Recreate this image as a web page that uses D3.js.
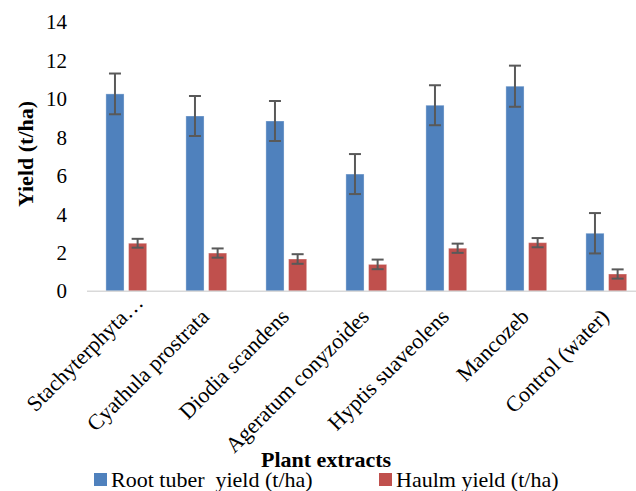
<!DOCTYPE html>
<html>
<head>
<meta charset="utf-8">
<script src="https://cdn.jsdelivr.net/npm/d3@7"></script>
<style>
  html, body { margin: 0; padding: 0; background: #fff; }
  svg { display: block; font-family: "Liberation Serif", "Times New Roman", serif; }
</style>
</head>
<body>
<svg id="chart" width="636" height="491"></svg>
<script>
const categories = ["Stachyterphyta…", "Cyathula prostrata", "Diodia scandens", "Ageratum conyzoides", "Hyptis suaveolens", "Mancozeb", "Control (water)"];
const seriesNames = ["Root tuber  yield (t/ha)", "Haulm yield (t/ha)"];
const rootTuberYield = [10.27, 9.12, 8.86, 6.10, 9.68, 10.67, 3.02];
const rootTuberErr   = [1.06, 1.04, 1.04, 1.04, 1.04, 1.07, 1.05];
const haulmYield     = [2.50, 1.99, 1.68, 1.40, 2.24, 2.53, 0.90];
const haulmErr       = [0.23, 0.24, 0.25, 0.25, 0.24, 0.24, 0.24];
const yTicks = [0, 2, 4, 6, 8, 10, 12, 14];
const colors = ["#4F81BD", "#C0504D"];

const svg = d3.select("#chart");

const y = d3.scaleLinear().domain([0, 14]).range([291.3, 22.2]);
const x0 = d3.scaleBand().domain(categories).range([86.3, 646.3]).paddingInner(0.49).paddingOuter(0.245);
const x1 = d3.scaleBand().domain([0, 1]).range([0, x0.bandwidth()]).paddingInner(0.2);

const rows = categories.map((c, i) => ({
  cat: c,
  vals: [
    { s: 0, v: rootTuberYield[i], e: rootTuberErr[i] },
    { s: 1, v: haulmYield[i], e: haulmErr[i] }
  ]
}));

// y tick labels
svg.append("g").selectAll("text").data(yTicks).join("text")
  .attr("x", 67).attr("y", d => y(d)).attr("dy", "0.34em")
  .attr("text-anchor", "end").attr("font-size", 21).attr("fill", "#000")
  .text(d => d);

// bars
const groups = svg.append("g").selectAll("g").data(rows).join("g")
  .attr("transform", d => `translate(${x0(d.cat)},0)`);

groups.selectAll("rect").data(d => d.vals).join("rect")
  .attr("x", d => x1(d.s)).attr("width", x1.bandwidth())
  .attr("y", d => y(d.v)).attr("height", d => y(0) - y(d.v))
  .attr("fill", d => colors[d.s])
  .attr("stroke", "#ffffff").attr("stroke-opacity", 0.35).attr("stroke-width", 1);

// axis line
svg.append("line").attr("x1", 87).attr("x2", 636).attr("y1", y(0)).attr("y2", y(0))
  .attr("stroke", "#D9D9D9").attr("stroke-width", 1.5);

// error bars
const eb = groups.selectAll("g.err").data(d => d.vals).join("g").attr("class", "err")
  .attr("stroke", "#595959").attr("stroke-width", 2);
eb.append("line")
  .attr("x1", d => x1(d.s) + x1.bandwidth() / 2).attr("x2", d => x1(d.s) + x1.bandwidth() / 2)
  .attr("y1", d => y(d.v - d.e)).attr("y2", d => y(d.v + d.e));
eb.append("line")
  .attr("x1", d => x1(d.s) + x1.bandwidth() / 2 - 6).attr("x2", d => x1(d.s) + x1.bandwidth() / 2 + 6)
  .attr("y1", d => y(d.v + d.e)).attr("y2", d => y(d.v + d.e));
eb.append("line")
  .attr("x1", d => x1(d.s) + x1.bandwidth() / 2 - 6).attr("x2", d => x1(d.s) + x1.bandwidth() / 2 + 6)
  .attr("y1", d => y(d.v - d.e)).attr("y2", d => y(d.v - d.e));

// x category labels (rotated)
svg.append("g").selectAll("text").data(categories).join("text")
  .attr("transform", d => `translate(${x0(d) + x0.bandwidth() / 2 + 4},318) rotate(-45)`)
  .attr("dx", (d, i) => i === 0 ? 20 : 0)
  .attr("text-anchor", "end").attr("font-size", 22).attr("fill", "#000")
  .text(d => d);

// axis titles
svg.append("text")
  .attr("transform", "translate(33,154) rotate(-90)")
  .attr("text-anchor", "middle").attr("font-size", 22).attr("font-weight", "bold")
  .text("Yield (t/ha)");

svg.append("text")
  .attr("x", 326).attr("y", 467)
  .attr("text-anchor", "middle").attr("font-size", 22).attr("font-weight", "bold")
  .text("Plant extracts");

// legend
const legendX = [94, 379];
const lg = svg.append("g").selectAll("g").data(seriesNames).join("g")
  .attr("transform", (d, i) => `translate(${legendX[i]},473)`);
lg.append("rect").attr("width", 13).attr("height", 13).attr("fill", (d, i) => colors[i]);
lg.append("text").attr("x", 17).attr("y", 13.5).attr("font-size", 22)
  .attr("xml:space", "preserve").style("white-space", "pre")
  .text(d => d);
</script>
</body>
</html>
